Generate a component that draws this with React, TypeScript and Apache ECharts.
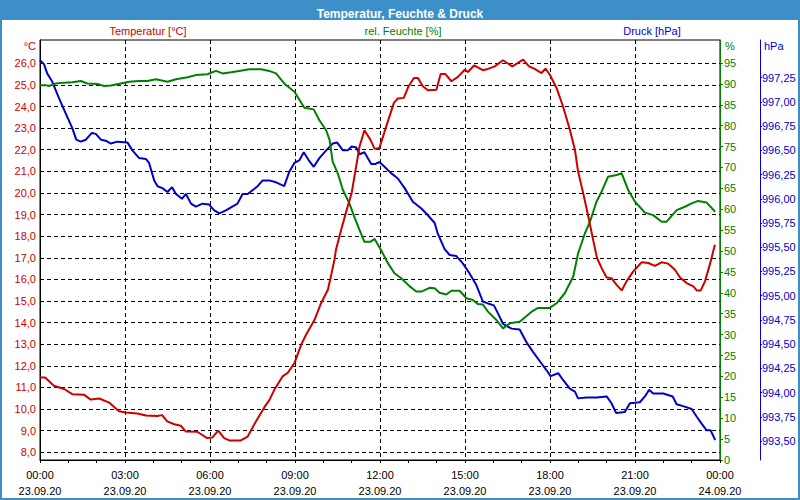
import React, { useEffect, useRef } from "react";
import * as echarts from "echarts";

const FONT = "'Liberation Sans', Arial, sans-serif";
const RED = "#cc0000";
const GREEN = "#008000";
const BLUE = "#0000cc";
const BAR = "#3d8fc8";

const titleText = "Temperatur, Feuchte & Druck";
const seriesNames = ["Temperatur [°C]", "rel. Feuchte [%]", "Druck [hPa]"];
const unitNames = ["°C", "%", "hPa"];

const tempTicks = [8, 9, 10, 11, 12, 13, 14, 15, 16, 17, 18, 19, 20, 21, 22, 23, 24, 25, 26];
const humTicks = [0, 5, 10, 15, 20, 25, 30, 35, 40, 45, 50, 55, 60, 65, 70, 75, 80, 85, 90, 95];
const pressTicks = [993.5, 993.75, 994.0, 994.25, 994.5, 994.75, 995.0, 995.25, 995.5, 995.75, 996.0, 996.25, 996.5, 996.75, 997.0, 997.25];

// hours since 23.09.20 00:00
const tempHours = [0, 0.18, 0.49, 0.85, 1.14, 1.56, 1.79, 2.09, 2.44, 2.79, 3.03, 3.43, 3.74, 4.14, 4.31, 4.49, 4.74, 4.97, 5.15, 5.55, 5.9, 6.08, 6.29, 6.5, 6.68, 7.09, 7.33, 7.62, 7.92, 8.09, 8.27, 8.56, 8.74, 8.98, 9.22, 9.39, 9.69, 9.92, 10.16, 10.28, 10.39, 10.45, 10.63, 10.86, 11.0, 11.12, 11.28, 11.45, 11.66, 11.81, 11.98, 12.22, 12.49, 12.63, 12.84, 13.01, 13.2, 13.34, 13.51, 13.69, 13.99, 14.14, 14.31, 14.52, 14.75, 14.99, 15.1, 15.32, 15.63, 15.81, 16.05, 16.34, 16.67, 17.05, 17.26, 17.46, 17.7, 17.84, 17.99, 18.23, 18.46, 18.7, 18.88, 18.99, 19.17, 19.35, 19.52, 19.66, 19.82, 20.0, 20.17, 20.35, 20.53, 20.7, 20.94, 21.23, 21.47, 21.7, 21.94, 22.17, 22.41, 22.59, 22.82, 23.06, 23.18, 23.32, 23.47, 23.65, 23.82];
const tempValues = [11.46, 11.46, 11.08, 10.93, 10.69, 10.66, 10.44, 10.49, 10.3, 9.9, 9.84, 9.8, 9.7, 9.68, 9.72, 9.43, 9.3, 9.23, 8.96, 8.95, 8.66, 8.68, 9.0, 8.66, 8.55, 8.55, 8.73, 9.43, 10.09, 10.4, 10.89, 11.51, 11.67, 12.13, 12.98, 13.44, 14.13, 14.9, 15.52, 16.22, 16.9, 17.4, 18.3, 19.38, 20.0, 20.93, 22.16, 22.9, 22.47, 22.04, 22.08, 23.08, 24.17, 24.37, 24.4, 24.94, 25.32, 25.32, 24.94, 24.75, 24.78, 25.5, 25.5, 25.17, 25.37, 25.7, 25.6, 25.9, 25.68, 25.74, 25.86, 26.14, 25.86, 26.17, 25.86, 25.74, 25.55, 25.75, 25.48, 24.86, 24.0, 22.93, 22.0, 21.0, 20.0, 18.92, 17.84, 16.99, 16.53, 16.09, 16.06, 15.75, 15.49, 15.91, 16.37, 16.79, 16.76, 16.63, 16.79, 16.73, 16.45, 16.09, 15.83, 15.68, 15.49, 15.49, 15.91, 16.73, 17.6];

const humHours = [0, 0.2, 0.32, 0.55, 0.85, 1.14, 1.44, 1.67, 2.03, 2.26, 2.5, 2.85, 3.15, 3.5, 3.79, 4.09, 4.5, 4.8, 5.21, 5.5, 5.91, 6.21, 6.44, 6.74, 7.03, 7.39, 7.8, 8.09, 8.33, 8.62, 8.98, 9.33, 9.66, 9.86, 10.1, 10.22, 10.33, 10.51, 10.69, 10.92, 11.07, 11.28, 11.45, 11.66, 11.81, 12.04, 12.28, 12.51, 12.75, 13.04, 13.28, 13.46, 13.75, 13.93, 14.1, 14.34, 14.52, 14.81, 15.05, 15.28, 15.46, 15.63, 15.81, 16.11, 16.34, 16.58, 16.93, 17.35, 17.58, 17.99, 18.23, 18.52, 18.82, 18.99, 19.23, 19.41, 19.64, 19.82, 20.05, 20.35, 20.53, 20.76, 21.0, 21.35, 21.64, 21.94, 22.11, 22.47, 22.76, 23.0, 23.23, 23.53, 23.83];
const humValues = [89.7, 89.7, 89.5, 90.1, 90.3, 90.4, 90.7, 90.1, 90.0, 89.5, 89.6, 90.1, 90.5, 90.7, 90.7, 91.1, 90.5, 91.1, 91.6, 92.1, 92.3, 93.1, 92.5, 92.8, 93.1, 93.5, 93.5, 93.1, 92.5, 90.1, 88.1, 84.3, 83.9, 81.3, 78.9, 76.6, 71.4, 68.6, 64.6, 61.4, 58.6, 55.0, 52.2, 52.2, 52.9, 50.2, 47.1, 44.7, 43.5, 41.6, 40.3, 40.3, 41.2, 41.1, 40.0, 39.6, 40.5, 40.5, 38.7, 38.3, 37.3, 37.2, 35.5, 33.5, 31.5, 32.7, 33.1, 35.5, 36.4, 36.4, 37.5, 39.9, 43.9, 49.4, 54.2, 57.0, 61.8, 64.2, 67.8, 68.2, 68.6, 64.6, 61.8, 59.2, 58.6, 57.0, 57.0, 59.8, 60.6, 61.4, 62.0, 61.6, 59.4];

const pressHours = [0, 0.14, 0.26, 0.43, 0.67, 0.91, 1.14, 1.28, 1.44, 1.62, 1.83, 1.97, 2.15, 2.32, 2.5, 2.73, 3.09, 3.26, 3.5, 3.74, 3.85, 4.03, 4.15, 4.32, 4.5, 4.66, 4.8, 5.01, 5.15, 5.33, 5.5, 5.74, 5.97, 6.15, 6.33, 6.56, 6.97, 7.15, 7.33, 7.68, 7.86, 8.09, 8.33, 8.62, 8.8, 8.98, 9.16, 9.31, 9.48, 9.66, 9.86, 10.1, 10.33, 10.49, 10.69, 10.86, 11.0, 11.16, 11.28, 11.45, 11.69, 11.84, 11.98, 12.16, 12.37, 12.63, 12.87, 13.16, 13.46, 13.69, 13.93, 14.04, 14.28, 14.46, 14.69, 14.93, 15.16, 15.4, 15.63, 15.81, 16.02, 16.16, 16.34, 16.64, 16.93, 17.17, 17.4, 17.7, 17.88, 18.02, 18.29, 18.46, 18.7, 18.88, 18.99, 19.29, 19.64, 20.0, 20.17, 20.33, 20.64, 20.82, 21.17, 21.35, 21.5, 21.64, 22.0, 22.33, 22.47, 22.7, 23.0, 23.18, 23.35, 23.53, 23.67, 23.83];
const pressValues = [997.43, 997.39, 997.29, 997.21, 997.04, 996.88, 996.73, 996.61, 996.59, 996.61, 996.68, 996.67, 996.61, 996.6, 996.57, 996.59, 996.58, 996.5, 996.42, 996.41, 996.37, 996.19, 996.13, 996.11, 996.07, 996.12, 996.05, 996.0, 996.05, 995.95, 995.92, 995.95, 995.94, 995.88, 995.85, 995.88, 995.95, 996.05, 996.05, 996.13, 996.19, 996.19, 996.17, 996.13, 996.28, 996.37, 996.4, 996.48, 996.4, 996.33, 996.42, 996.5, 996.57, 996.58, 996.5, 996.5, 996.54, 996.53, 996.46, 996.48, 996.36, 996.36, 996.38, 996.33, 996.27, 996.21, 996.11, 995.97, 995.9, 995.83, 995.75, 995.64, 995.48, 995.42, 995.41, 995.33, 995.23, 995.11, 994.94, 994.92, 994.9, 994.82, 994.71, 994.66, 994.65, 994.52, 994.42, 994.3, 994.23, 994.17, 994.2, 994.13, 994.04, 994.01, 993.94, 993.95, 993.95, 993.96, 993.89, 993.79, 993.8, 993.89, 993.9, 993.96, 994.03, 993.99, 993.99, 993.96, 993.88, 993.86, 993.83, 993.75, 993.68, 993.61, 993.61, 993.51];

const zip = (xs: number[], ys: number[]) => xs.map((x, i) => [x, ys[i]]);
const comma = (v: number, d: number) => v.toFixed(d).replace(".", ",");
const DASH = [4, 3];

export default function App() {
  const ref = useRef<HTMLDivElement>(null);
  useEffect(() => {
    document.body.style.margin = "0";
    const chart = echarts.init(ref.current!, null, { renderer: "svg" });
    const txt = (text: string, x: number, y: number, color: string, align: string) => ({
      type: "text",
      x,
      y,
      style: { text, fill: color, font: `11px ${FONT}`, textAlign: align, textVerticalAlign: "middle" },
      z: 10,
    });
    chart.setOption({
      animation: false,
      backgroundColor: "#ffffff",
      title: {
        text: titleText,
        left: "center",
        top: 3,
        textStyle: { color: "#ffffff", fontWeight: "bold", fontSize: 12, fontFamily: FONT },
        z: 20,
      },
      graphic: [
        { type: "rect", shape: { x: 0, y: 0, width: 800, height: 20 }, style: { fill: BAR }, z: 1 },
        { type: "rect", shape: { x: 1, y: 1, width: 798, height: 498 }, style: { fill: "none", stroke: BAR, lineWidth: 2 }, z: 30, silent: true },
        txt(seriesNames[0], 148, 31, RED, "center"),
        txt(seriesNames[1], 403, 31, GREEN, "center"),
        txt(seriesNames[2], 652, 31, BLUE, "center"),
        txt(unitNames[0], 36, 46, RED, "right"),
        txt(unitNames[1], 725, 46, GREEN, "left"),
        txt(unitNames[2], 764, 46, BLUE, "left"),
      ],
      grid: {
        left: 40,
        top: 40,
        width: 680,
        height: 420,
        show: true,
        borderColor: "#000",
        borderWidth: 1,
        backgroundColor: "transparent",
      },
      xAxis: {
        type: "value",
        min: 0,
        max: 24,
        interval: 3,
        axisLine: { show: true, lineStyle: { color: "#000", width: 1 } },
        axisTick: { show: true, length: 3, lineStyle: { color: "#000" } },
        minorTick: { show: true, splitNumber: 3, length: 3, lineStyle: { color: "#000" } },
        splitLine: { show: true, lineStyle: { color: "#000", type: DASH, width: 1 } },
        axisLabel: {
          color: "#000",
          fontSize: 11,
          fontFamily: FONT,
          lineHeight: 16,
          margin: 7,
          formatter: (v: number) => {
            const hh = String(v % 24).padStart(2, "0");
            return `${hh}:00\n${v >= 24 ? "24.09.20" : "23.09.20"}`;
          },
        },
      },
      yAxis: [
        {
          type: "value",
          position: "left",
          min: 7.644,
          max: 27.078,
          axisLine: { show: true, lineStyle: { color: "#000", width: 1 } },
          axisTick: { show: false, customValues: tempTicks },
          axisLabel: {
            customValues: tempTicks,
            color: RED,
            fontSize: 11,
            fontFamily: FONT,
            margin: 4,
            formatter: (v: number) => comma(v, 1),
          },
          splitLine: { show: true, lineStyle: { color: "#000", type: DASH, width: 1 } },
        },
        {
          type: "value",
          position: "right",
          min: 0,
          max: 100.5,
          axisLine: { show: true, lineStyle: { color: GREEN, width: 1 } },
          axisTick: { show: true, inside: false, length: 3, customValues: humTicks, lineStyle: { color: GREEN } },
          axisLabel: {
            customValues: humTicks,
            color: GREEN,
            fontSize: 11,
            fontFamily: FONT,
            margin: 4,
            formatter: (v: number) => String(v),
          },
          splitLine: { show: false },
        },
        {
          type: "value",
          position: "right",
          offset: 40,
          min: 993.304,
          max: 997.639,
          axisLine: { show: true, lineStyle: { color: BLUE, width: 1 } },
          axisTick: { show: true, inside: false, length: 2, customValues: pressTicks, lineStyle: { color: BLUE } },
          axisLabel: {
            customValues: pressTicks,
            color: BLUE,
            fontSize: 11,
            fontFamily: FONT,
            margin: 2,
            formatter: (v: number) => comma(v, 2),
          },
          splitLine: { show: false },
        },
      ],
      series: [
        {
          name: seriesNames[2],
          type: "line",
          yAxisIndex: 2,
          data: zip(pressHours, pressValues),
          showSymbol: false,
          lineStyle: { color: BLUE, width: 2 },
          itemStyle: { color: BLUE },
        },
        {
          name: seriesNames[1],
          type: "line",
          yAxisIndex: 1,
          data: zip(humHours, humValues),
          showSymbol: false,
          lineStyle: { color: GREEN, width: 2 },
          itemStyle: { color: GREEN },
        },
        {
          name: seriesNames[0],
          type: "line",
          yAxisIndex: 0,
          data: zip(tempHours, tempValues),
          showSymbol: false,
          lineStyle: { color: RED, width: 2 },
          itemStyle: { color: RED },
        },
      ],
    });
    return () => chart.dispose();
  }, []);
  return <div ref={ref} style={{ width: 800, height: 500 }} />;
}
